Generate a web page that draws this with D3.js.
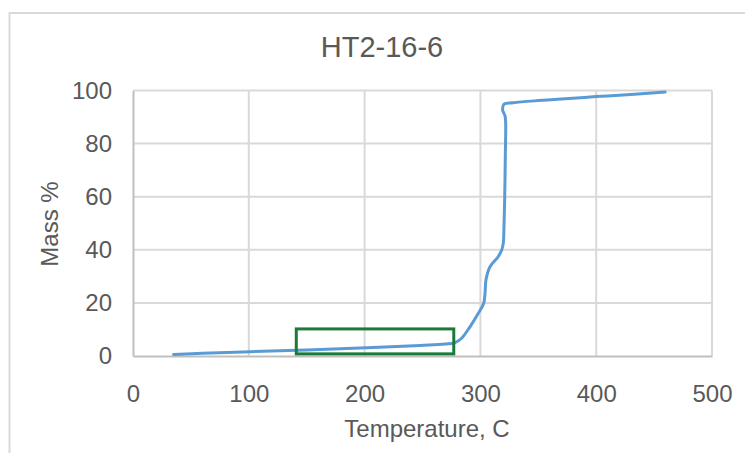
<!DOCTYPE html>
<html>
<head>
<meta charset="utf-8">
<script src="https://cdn.jsdelivr.net/npm/d3@7"></script>
<style>
  html, body { margin: 0; padding: 0; background: #ffffff; }
  svg { display: block; }
  text { font-family: "Liberation Sans", Arial, sans-serif; fill: #595959; }
</style>
</head>
<body>
<svg id="chart" width="745" height="453"></svg>
<script>
// Thermogravimetric trace for sample HT2-16-6
const chartTitle = "HT2-16-6";
const xAxisTitle = "Temperature, C";
const yAxisTitle = "Mass %";

// Temperature (°C) along the trace
const temperature = [35, 60, 101, 150, 202, 248, 276.6, 278, 283.8, 291, 298.2, 302.8, 304, 304.8, 308.3, 315, 318.4, 319.8, 320.3, 321, 321.5, 321.8, 321.2, 319.2, 320.4, 328.2, 350, 370, 400, 430, 459.5];
// Mass % at each temperature
const massPct = [0.6, 1.0, 1.6, 2.3, 3.1, 4.0, 4.8, 5.0, 6.7, 11.0, 16.1, 19.8, 23.6, 28.6, 33.6, 37.2, 39.9, 42.6, 47.5, 60, 75, 88, 90.5, 92.7, 94.9, 95.4, 96.2, 96.8, 97.7, 98.5, 99.4];

// Highlighted region: temperature range and mass range
const boxTemperature = [141, 277];
const boxMass = [0.8, 10.2];

const xTicks = [0, 100, 200, 300, 400, 500];
const yTicks = [0, 20, 40, 60, 80, 100];

const svg = d3.select("#chart");
const W = 745, H = 453;
const plot = { left: 133, right: 712, top: 90.5, bottom: 356 };

// Outer chart frame
svg.append("path")
  .attr("d", `M9.5,${H} L9.5,13 L${W},13`)
  .attr("fill", "none")
  .attr("stroke", "#d9d9d9")
  .attr("stroke-width", 2);

const x = d3.scaleLinear().domain([0, 500]).range([plot.left, plot.right]);
const y = d3.scaleLinear().domain([0, 100]).range([plot.bottom, plot.top]);

// Gridlines
const grid = svg.append("g");
grid.selectAll("line.v").data(xTicks.filter(d => d > 0)).join("line")
  .attr("x1", d => x(d)).attr("x2", d => x(d))
  .attr("y1", plot.top).attr("y2", plot.bottom)
  .attr("stroke", "#d9d9d9").attr("stroke-width", 2);
grid.selectAll("line.h").data(yTicks.filter(d => d > 0)).join("line")
  .attr("x1", plot.left).attr("x2", plot.right)
  .attr("y1", d => y(d)).attr("y2", d => y(d))
  .attr("stroke", "#d9d9d9").attr("stroke-width", 2);

// Axes
const xAxis = svg.append("g")
  .attr("transform", `translate(0,${plot.bottom})`)
  .call(d3.axisBottom(x).tickValues(xTicks).tickSize(0).tickPadding(29));
xAxis.select(".domain").attr("stroke", "#bfbfbf").attr("stroke-width", 2);
xAxis.selectAll("text").style("font-size", "24px").attr("fill", "#595959");

const yAxis = svg.append("g")
  .attr("transform", `translate(${plot.left},0)`)
  .call(d3.axisLeft(y).tickValues(yTicks).tickSize(0).tickPadding(21));
yAxis.select(".domain").attr("stroke", "#bfbfbf").attr("stroke-width", 2);
yAxis.selectAll("text").style("font-size", "24px").attr("fill", "#595959");
svg.selectAll(".tick text").attr("font-family", null);

// Data line
const pts = temperature.map((t, i) => [t, massPct[i]]);
svg.append("path")
  .datum(pts)
  .attr("fill", "none")
  .attr("stroke", "#5b9bd5")
  .attr("stroke-width", 3)
  .attr("stroke-linejoin", "round")
  .attr("stroke-linecap", "round")
  .attr("d", d3.line().x(d => x(d[0])).y(d => y(d[1])).curve(d3.curveCatmullRom.alpha(0.5)));

// Highlight box
svg.append("rect")
  .attr("x", x(boxTemperature[0]))
  .attr("y", y(boxMass[1]))
  .attr("width", x(boxTemperature[1]) - x(boxTemperature[0]))
  .attr("height", y(boxMass[0]) - y(boxMass[1]))
  .attr("fill", "none")
  .attr("stroke", "#1a7a38")
  .attr("stroke-width", 3);

// Titles
svg.append("text")
  .attr("x", 382).attr("y", 57)
  .attr("text-anchor", "middle")
  .style("font-size", "29px")
  .text(chartTitle);

svg.append("text")
  .attr("x", 427).attr("y", 437)
  .attr("text-anchor", "middle")
  .style("font-size", "24px")
  .text(xAxisTitle);

svg.append("text")
  .attr("transform", "translate(58,224) rotate(-90)")
  .attr("text-anchor", "middle")
  .style("font-size", "24px")
  .text(yAxisTitle);
</script>
</body>
</html>
